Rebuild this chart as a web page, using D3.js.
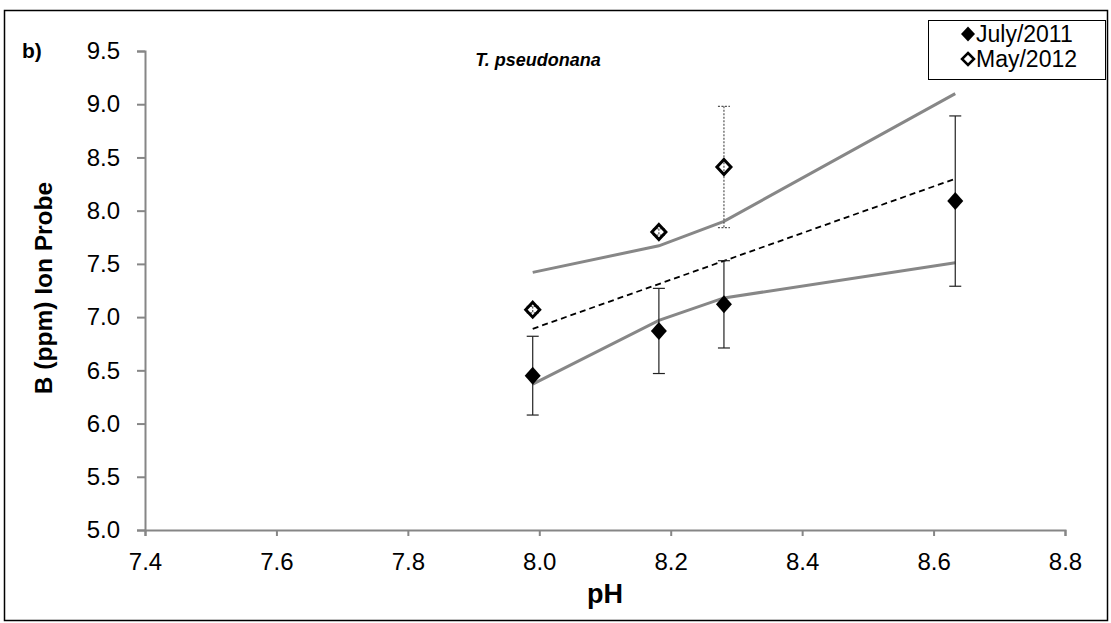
<!DOCTYPE html>
<html>
<head>
<meta charset="utf-8">
<script src="https://cdn.jsdelivr.net/npm/d3@7"></script>
<style>
  body { margin: 0; background: #fff; }
  text { font-family: "Liberation Sans", Arial, sans-serif; }
</style>
</head>
<body>
<div id="chart"></div>
<script>
// July/2011 (filled diamonds)
var julyPH = [7.99, 8.182, 8.281, 8.633];
var julyB = [6.45, 6.87, 7.12, 8.09];
var julyErr = [0.37, 0.40, 0.41, 0.80];

// May/2012 (open diamonds)
var mayPH = [7.99, 8.182, 8.281];
var mayB = [7.07, 7.80, 8.41];
var mayErr = [0.03, 0.03, 0.57];

// regression line and confidence bounds
var fitPH = [7.99, 8.633];
var fitB = [6.89, 8.30];
var upperB = [7.42, 7.67, 7.90, 9.10];
var lowerB = [6.37, 6.97, 7.18, 7.51];

var xTicks = [7.4, 7.6, 7.8, 8.0, 8.2, 8.4, 8.6, 8.8];
var yTicks = [5.0, 5.5, 6.0, 6.5, 7.0, 7.5, 8.0, 8.5, 9.0, 9.5];

var svgWidth = 1111, svgHeight = 623;
var margin = { top: 51, right: 46, bottom: 93, left: 145 };
var width = svgWidth - margin.left - margin.right;
var height = svgHeight - margin.top - margin.bottom;

var svg = d3.select("#chart").append("svg")
    .attr("width", svgWidth)
    .attr("height", svgHeight);

// outer frame
svg.append("rect")
    .attr("x", 4.5).attr("y", 10.5)
    .attr("width", 1103).attr("height", 610)
    .attr("fill", "none").attr("stroke", "#000").attr("stroke-width", 1.5);

var g = svg.append("g")
    .attr("transform", `translate(${margin.left}, ${margin.top})`);

var x = d3.scaleLinear().domain([7.4, 8.8]).range([0, width]);
var y = d3.scaleLinear().domain([5.0, 9.5]).range([height, 0]);

// axes
var xAxis = g.append("g")
    .attr("transform", `translate(0, ${height})`)
    .call(d3.axisBottom(x).tickValues(xTicks).tickFormat(d3.format(".1f")).tickSizeOuter(0).tickSize(6).tickPadding(17));
var yAxis = g.append("g")
    .call(d3.axisLeft(y).tickValues(yTicks).tickFormat(d3.format(".1f")).tickSizeOuter(0).tickSize(8).tickPadding(17));

[xAxis, yAxis].forEach(function(ax) {
    ax.select(".domain").attr("stroke", "#868686").attr("stroke-width", 2);
    ax.selectAll(".tick line").attr("stroke", "#868686").attr("stroke-width", 2);
    ax.selectAll(".tick text").attr("font-size", 24).attr("fill", "#000")
        .style("font-family", "'Liberation Sans', Arial, sans-serif");
});

// bound lines
var idx = d3.range(julyPH.length);
var line = d3.line().x(d => x(d[0])).y(d => y(d[1]));
g.append("path")
    .attr("d", line(idx.map(i => [julyPH[i], upperB[i]])))
    .attr("fill", "none").attr("stroke", "#878787").attr("stroke-width", 3);
g.append("path")
    .attr("d", line(idx.map(i => [julyPH[i], lowerB[i]])))
    .attr("fill", "none").attr("stroke", "#878787").attr("stroke-width", 3);
g.append("path")
    .attr("d", line(fitPH.map((p, i) => [p, fitB[i]])))
    .attr("fill", "none").attr("stroke", "#000").attr("stroke-width", 1.8)
    .attr("stroke-dasharray", "6,4");

// error bars
function errorBars(px, py, pe, dashed) {
    var eb = g.append("g");
    px.forEach(function(p, i) {
        var cx = x(p), top = y(py[i] + pe[i]), bot = y(py[i] - pe[i]);
        var grp = eb.append("g")
            .attr("stroke", dashed ? "#555" : "#222")
            .attr("stroke-width", 1.2)
            .attr("stroke-dasharray", dashed ? "2,1.5" : null);
        grp.append("line").attr("x1", cx).attr("x2", cx).attr("y1", top).attr("y2", bot);
        grp.append("line").attr("x1", cx - 6).attr("x2", cx + 6).attr("y1", top).attr("y2", top);
        grp.append("line").attr("x1", cx - 6).attr("x2", cx + 6).attr("y1", bot).attr("y2", bot);
    });
}
errorBars(mayPH, mayB, mayErr, true);
errorBars(julyPH, julyB, julyErr, false);

// markers
var diamond = "M0,-9L8,0L0,9L-8,0Z";
var openDiamond = "M0,-7.5L7,0L0,7.5L-7,0Z";
g.selectAll(".july").data(idx).enter().append("path")
    .attr("class", "july")
    .attr("d", diamond)
    .attr("transform", i => `translate(${x(julyPH[i])}, ${y(julyB[i])})`)
    .attr("fill", "#000");
g.selectAll(".may").data(d3.range(mayPH.length)).enter().append("path")
    .attr("class", "may")
    .attr("d", openDiamond)
    .attr("transform", i => `translate(${x(mayPH[i])}, ${y(mayB[i])})`)
    .attr("fill", "none").attr("stroke", "#000").attr("stroke-width", 3);

// labels
svg.append("text")
    .attr("x", 22).attr("y", 58)
    .attr("font-size", 21).attr("font-weight", "bold")
    .text("b)");
svg.append("text")
    .attr("x", 538).attr("y", 66)
    .attr("text-anchor", "middle")
    .attr("font-size", 18).attr("font-weight", "bold").attr("font-style", "italic")
    .text("T. pseudonana");
svg.append("text")
    .attr("x", 605).attr("y", 603)
    .attr("text-anchor", "middle")
    .attr("font-size", 27).attr("font-weight", "bold")
    .text("pH");
svg.append("text")
    .attr("transform", "translate(52, 288) rotate(-90)")
    .attr("text-anchor", "middle")
    .attr("font-size", 24.5).attr("font-weight", "bold")
    .text("B (ppm) Ion Probe");

// legend
var legend = svg.append("g").attr("transform", "translate(928, 20)");
legend.append("rect")
    .attr("x", 0.5).attr("y", 0.5).attr("width", 177).attr("height", 59)
    .attr("fill", "#fff").attr("stroke", "#000").attr("stroke-width", 1);
var legendItems = ["July/2011", "May/2012"];
legendItems.forEach(function(name, i) {
    var cy = 14 + i * 25;
    if (i === 0) {
        legend.append("path").attr("d", "M0,-7.5L7,0L0,7.5L-7,0Z")
            .attr("transform", `translate(${40}, ${cy})`).attr("fill", "#000");
    } else {
        legend.append("path").attr("d", "M0,-6L6,0L0,6L-6,0Z")
            .attr("transform", `translate(${40}, ${cy})`)
            .attr("fill", "none").attr("stroke", "#000").attr("stroke-width", 2.5);
    }
    legend.append("text")
        .attr("x", 48).attr("y", cy + 8)
        .attr("font-size", 23)
        .text(name);
});
</script>
</body>
</html>
